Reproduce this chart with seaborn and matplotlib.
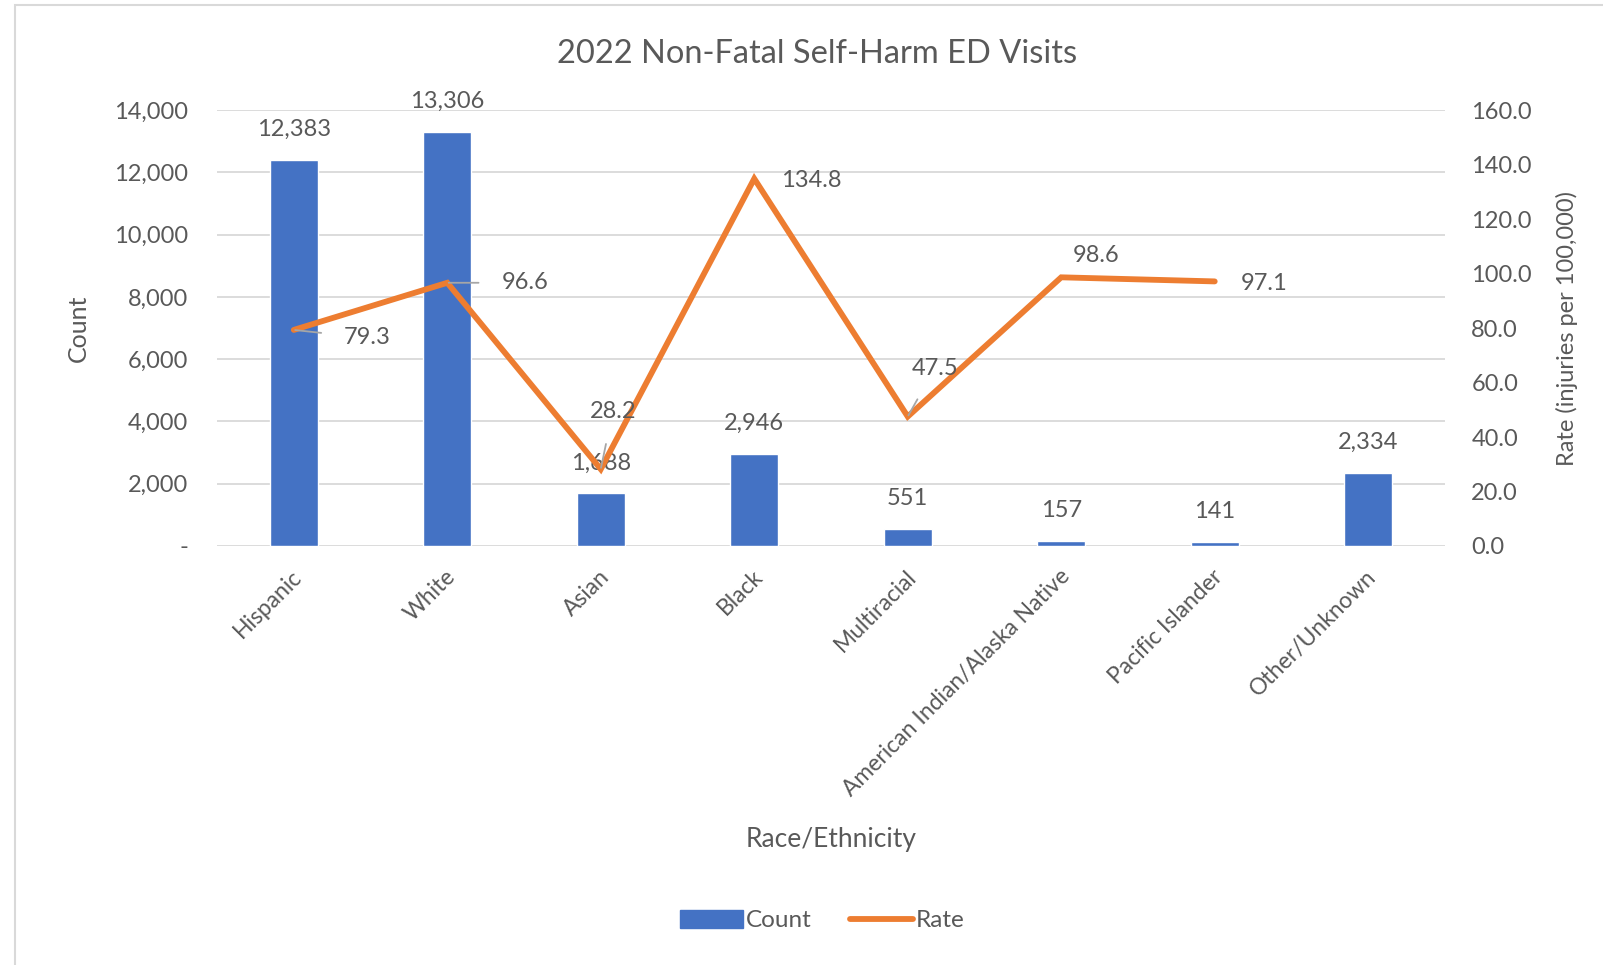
import numpy as np
import pandas as pd
import matplotlib
matplotlib.use("Agg")
import matplotlib.pyplot as plt
from matplotlib.patches import Rectangle
from matplotlib.lines import Line2D
from matplotlib.patches import Patch
from matplotlib.ticker import FuncFormatter, MultipleLocator
import seaborn as sns

# Data
categories = ["Hispanic", "White", "Asian", "Black", "Multiracial",
              "American Indian/Alaska Native", "Pacific Islander", "Other/Unknown"]
counts = [12383, 13306, 1688, 2946, 551, 157, 141, 2334]
rates = [79.3, 96.6, 28.2, 134.8, 47.5, 98.6, 97.1, np.nan]

title = "2022 Non-Fatal Self-Harm ED Visits"
xlabel = "Race/Ethnicity"
ylabel_left = "Count"
ylabel_right = "Rate (injuries per 100,000)"

BLUE = "#4472C4"
ORANGE = "#ED7D31"
TEXT = "#595959"
GRID = "#D9D9D9"

sns.set_theme(style="white")
plt.rcParams["font.family"] = ["Lato", "DejaVu Sans"]
plt.rcParams["text.color"] = TEXT
plt.rcParams["axes.labelcolor"] = TEXT
plt.rcParams["xtick.color"] = TEXT
plt.rcParams["ytick.color"] = TEXT

df = pd.DataFrame({"category": categories, "count": counts, "rate": rates})
df["pos"] = np.arange(len(df))

fig = plt.figure(figsize=(16.03, 9.65), dpi=100)
fig.patch.set_facecolor("white")
ax = fig.add_axes([0.1354, 0.4342, 0.9014 - 0.1354, 0.886 - 0.4342])

# Count bars on the primary axis
sns.barplot(data=df, x="category", y="count", color=BLUE, width=0.31,
            saturation=1, ax=ax, zorder=2)
ax.set_xlim(-0.5, len(categories) - 0.5)
ax.set_ylim(0, 14000)
ax.yaxis.set_major_locator(MultipleLocator(2000))
ax.yaxis.set_major_formatter(FuncFormatter(lambda v, p: "-" if v == 0 else f"{v:,.0f}"))
ax.grid(axis="y", color=GRID, linewidth=1.3, zorder=0)
ax.set_axisbelow(True)
for s in ax.spines.values():
    s.set_visible(False)
ax.tick_params(axis="y", labelsize=17, length=0, pad=21)
ax.tick_params(axis="x", length=0, pad=8)
ax.set_xticks(range(len(categories)))
ax.set_xticklabels(categories, rotation=45, ha="right", va="center",
                   rotation_mode="anchor", fontsize=16.5)
for lbl in ax.get_xticklabels():
    lbl.set_transform(lbl.get_transform() + matplotlib.transforms.ScaledTranslation(0.05, -0.16, fig.dpi_scale_trans))
ax.set_xlabel(xlabel, fontsize=19, labelpad=19)
ax.set_ylabel(ylabel_left, fontsize=18, labelpad=17)

# Count value labels
for i, c in enumerate(counts):
    ax.annotate(f"{c:,}", (i, c), xytext=(0, 22), textcoords="offset points",
                ha="center", va="center", fontsize=17, color=TEXT, zorder=5)

# Rate line on the secondary axis
ax2 = ax.twinx()
line_df = df.dropna(subset=["rate"])
sns.lineplot(data=line_df, x="pos", y="rate", color=ORANGE, linewidth=4.2,
             ax=ax2, solid_capstyle="round", solid_joinstyle="miter", zorder=3)
ax2.set_ylim(0, 160)
ax2.yaxis.set_major_locator(MultipleLocator(20))
ax2.yaxis.set_major_formatter(FuncFormatter(lambda v, p: f"{v:.1f}"))
ax2.tick_params(axis="y", labelsize=17, length=0, pad=19)
ax2.set_ylabel(ylabel_right, fontsize=17, labelpad=17)
ax2.set_xlabel("")
ax2.grid(False)
for s in ax2.spines.values():
    s.set_visible(False)
ax2.set_xlim(-0.5, len(categories) - 0.5)

# Rate value labels: (dx, dy) offsets in pixels, and label alignment
rate_label_offsets = [(50, -8, "left"), (54, 0, "left"), (12, 58, "center"),
                      (27, -2, "left"), (27, 48, "center"), (35, 22, "center"),
                      (26, -2, "left")]
px = 72 / fig.dpi
for i, r in enumerate(rates):
    if np.isnan(r):
        continue
    dx, dy, ha = rate_label_offsets[i]
    leader = i in (0, 1, 2, 4)
    ax2.annotate(f"{r:.1f}", (i, r), xytext=(dx * px, dy * px),
                 textcoords="offset points", ha=ha, va="center",
                 fontsize=17, color=TEXT, zorder=6,
                 arrowprops=dict(arrowstyle="-", color="#A6A6A6", lw=1.3,
                                 shrinkA=14, shrinkB=1) if leader else None)

fig.suptitle(title, x=0.51, y=0.96, fontsize=23.5, color=TEXT)

# Legend
handles = [Patch(facecolor=BLUE, edgecolor=BLUE),
           Line2D([0], [0], color=ORANGE, linewidth=4.2, solid_capstyle="round")]
fig.legend(handles, ["Count", "Rate"], loc="center", bbox_to_anchor=(0.513, 0.046),
           ncol=2, frameon=False, fontsize=17.5, handlelength=2.6, handleheight=0.8,
           columnspacing=1.6, handletextpad=0.1)

# Chart area border
fig.add_artist(Rectangle((15 / 1603, -0.05), 1.0, 1 - 5 / 965 + 0.05,
                         transform=fig.transFigure, fill=False,
                         edgecolor="#D9D9D9", linewidth=1.5))

fig.savefig("out.png", dpi=100, facecolor="white")
